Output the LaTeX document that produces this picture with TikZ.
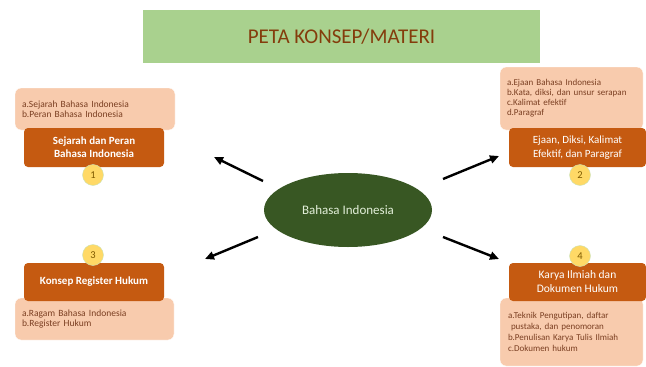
\documentclass[tikz,border=0pt]{standalone}
\usepackage{fontspec}
\setmainfont{Carlito}
\usetikzlibrary{shapes.geometric,arrows.meta}
\definecolor{titlegreen}{HTML}{A9D18E}
\definecolor{titletext}{HTML}{843C0C}
\definecolor{peach}{HTML}{F8CBAD}
\definecolor{rust}{HTML}{C55A11}
\definecolor{subtext}{HTML}{7B3F22}
\definecolor{numyellow}{HTML}{FFD966}
\definecolor{numtext}{HTML}{7F5A00}
\definecolor{darkgreen}{HTML}{385723}
\definecolor{paletext}{HTML}{E2EFD9}
\tikzset{
	lightbox/.style={rectangle,rounded corners=6pt,fill=peach,draw=white,inner ysep=0pt,inner xsep=7pt,
		align=left,text=subtext,font=\fontsize{9.5}{10.5}\selectfont},
	darkbox/.style={rectangle,rounded corners=4pt,fill=rust,inner sep=0pt,align=center,text=white},
	numdot/.style={circle,fill=numyellow,draw=titlegreen!60,minimum size=21pt,inner sep=0pt,
		text=numtext,font=\fontsize{10.5}{12}\selectfont},
	pointer/.style={-{Triangle[length=9pt,width=8pt]},line width=2.4pt}
}
\begin{document}
\begin{tikzpicture}[x=1pt,y=-1pt]
\useasboundingbox (0,0) rectangle (646,367);
	% title
	\draw (341.5,36.5) node[fill=titlegreen,minimum width=397pt,minimum height=53pt,text=titletext,
		font=\fontsize{21}{24}\selectfont] (title) {PETA KONSEP/MATERI};
	% centre
	\draw (348,210) node[ellipse,fill=darkgreen,minimum width=168pt,minimum height=74pt,text=paletext,
		font=\fontsize{13}{15}\selectfont] (pusat) {Bahasa Indonesia};
	% 1
	\draw (95,109) node[lightbox,minimum width=160pt,minimum height=42pt,text width=146pt] (isi1)
		{a.Sejarah Bahasa Indonesia\\b.Peran Bahasa Indonesia};
	\draw (94,147.5) node[darkbox,minimum width=140pt,minimum height=39pt,
		font=\fontsize{11}{13}\selectfont\bfseries] (judul1) {Sejarah dan Peran\\Bahasa Indonesia};
	\draw (93,175) node[numdot] (no1) {1};
	% 2
	\draw (571.5,98.5) node[lightbox,minimum width=143pt,minimum height=63pt,text width=129pt,
		font=\fontsize{9}{10}\selectfont] (isi2)
		{a.Ejaan Bahasa Indonesia\\b.Kata, diksi, dan unsur serapan\\c.Kalimat efektif\\d.Paragraf};
	\draw (577.5,147.5) node[darkbox,minimum width=137pt,minimum height=39pt,
		font=\fontsize{11}{14}\selectfont] (judul2) {Ejaan, Diksi, Kalimat\\Efektif, dan Paragraf};
	\draw (580,175) node[numdot] (no2) {2};
	% 3
	\draw (94.5,319) node[lightbox,minimum width=159pt,minimum height=42pt,text width=145pt] (isi3)
		{a.Ragam Bahasa Indonesia\\b.Register Hukum};
	\draw (94,282) node[darkbox,minimum width=140pt,minimum height=38pt,
		font=\fontsize{11}{13}\selectfont\bfseries] (judul3) {Konsep Register Hukum};
	\draw (93,255) node[numdot] (no3) {3};
	% 4
	\draw (571.5,332) node[lightbox,minimum width=143pt,minimum height=68pt,text width=127pt,
		inner xsep=8pt,font=\fontsize{9}{11.2}\selectfont] (isi4)
		{a.Teknik Pengutipan, daftar\\\hspace*{3pt}pustaka, dan penomoran\\b.Penulisan Karya Tulis Ilmiah\\c.Dokumen hukum};
	\draw (577.5,282) node[darkbox,minimum width=137pt,minimum height=38pt,
		font=\fontsize{11.5}{14}\selectfont] (judul4) {Karya Ilmiah dan\\Dokumen Hukum};
	\draw (580,256) node[numdot] (no4) {4};
	% arrows
	\coordinate (p1) at (263,181);  \coordinate (q1) at (214,157);
	\coordinate (p2) at (443,179);  \coordinate (q2) at (499,156);
	\coordinate (p3) at (258,237);  \coordinate (q3) at (205,259);
	\coordinate (p4) at (443,237);  \coordinate (q4) at (499,259);
	\draw[pointer] (p1) -- (q1);
	\draw[pointer] (p2) -- (q2);
	\draw[pointer] (p3) -- (q3);
	\draw[pointer] (p4) -- (q4);
\end{tikzpicture}
\end{document}
